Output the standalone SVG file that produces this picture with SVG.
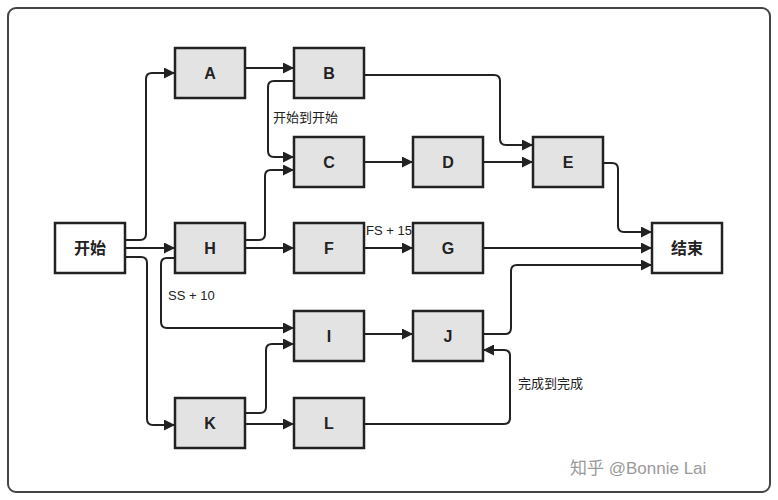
<svg xmlns="http://www.w3.org/2000/svg" width="778" height="500" viewBox="0 0 778 500">
<style>
.n rect{fill:#e3e3e3;stroke:#222;stroke-width:2.5}
.w rect{fill:#fff}
.n text{font-family:"Liberation Sans","Noto Sans CJK SC",sans-serif;font-weight:bold;font-size:16px;text-anchor:middle;fill:#222}
.c path{fill:none;stroke:#222;stroke-width:2;marker-end:url(#a)}
.t{font-family:"Liberation Sans","Noto Sans CJK SC",sans-serif;font-size:13px;fill:#222}
</style>
<defs><marker id="a" viewBox="0 0 10 10" refX="10" refY="5" markerWidth="12" markerHeight="11" orient="auto" markerUnits="userSpaceOnUse"><path d="M0,0L10,5L0,10z" fill="#222"/></marker></defs>
<rect x="8" y="8" width="762" height="484" rx="8" fill="#fff" stroke="#444" stroke-width="2"/>
<g class="c">
<path d="M125,240H140q6,0 6,-6V79q0,-6 6,-6H175"/>
<path d="M125,248H175"/>
<path d="M125,257H141q6,0 6,6V419q0,6 6,6H175"/>
<path d="M245,68H294"/>
<path d="M294,81H274q-6,0 -6,6V151q0,6 6,6H294"/>
<path d="M245,240H259q6,0 6,-6V176q0,-6 6,-6H294"/>
<path d="M245,248H294"/>
<path d="M175,258H167q-6,0 -6,6V322q0,6 6,6H294"/>
<path d="M364,162H413"/>
<path d="M483,162H533"/>
<path d="M364,75H494q6,0 6,6V139q0,6 6,6H533"/>
<path d="M603,163H612q6,0 6,6V226q0,6 6,6H652"/>
<path d="M364,248H413"/>
<path d="M483,248H652"/>
<path d="M483,334H505q6,0 6,-6V271q0,-6 6,-6H652"/>
<path d="M364,334H413"/>
<path d="M245,413H260q6,0 6,-6V350q0,-6 6,-6H294"/>
<path d="M245,424H294"/>
<path d="M364,424H504q6,0 6,-6V356q0,-6 -6,-6H483"/>
</g>
<g class="n" id="start"><g class="w"><rect x="55" y="223" width="70" height="50"/></g><text x="90" y="254">开始</text></g>
<g class="n" id="end"><g class="w"><rect x="652" y="223" width="70" height="50"/></g><text x="687" y="254">结束</text></g>
<g class="n" id="A"><rect x="175" y="48" width="70" height="50"/><text x="210" y="79">A</text></g>
<g class="n" id="B"><rect x="294" y="48" width="70" height="50"/><text x="329" y="79">B</text></g>
<g class="n" id="C"><rect x="294" y="137" width="70" height="50"/><text x="329" y="168">C</text></g>
<g class="n" id="D"><rect x="413" y="137" width="70" height="50"/><text x="448" y="168">D</text></g>
<g class="n" id="E"><rect x="533" y="137" width="70" height="50"/><text x="568" y="168">E</text></g>
<g class="n" id="H"><rect x="175" y="223" width="70" height="50"/><text x="210" y="254">H</text></g>
<g class="n" id="F"><rect x="294" y="223" width="70" height="50"/><text x="329" y="254">F</text></g>
<g class="n" id="G"><rect x="413" y="223" width="70" height="50"/><text x="448" y="254">G</text></g>
<g class="n" id="I"><rect x="294" y="311" width="70" height="50"/><text x="329" y="342">I</text></g>
<g class="n" id="J"><rect x="413" y="311" width="70" height="50"/><text x="448" y="342">J</text></g>
<g class="n" id="K"><rect x="175" y="398" width="70" height="50"/><text x="210" y="429">K</text></g>
<g class="n" id="L"><rect x="294" y="398" width="70" height="50"/><text x="329" y="429">L</text></g>
<text class="t" x="273" y="122">开始到开始</text>
<text class="t" x="168" y="300">SS + 10</text>
<text class="t" x="366" y="235">FS + 15</text>
<text class="t" x="518" y="388">完成到完成</text>
<text x="570" y="474" style="font-family:'Liberation Sans','Noto Sans CJK SC',sans-serif;font-size:17px;fill:#999">知乎 @Bonnie Lai</text>
</svg>
